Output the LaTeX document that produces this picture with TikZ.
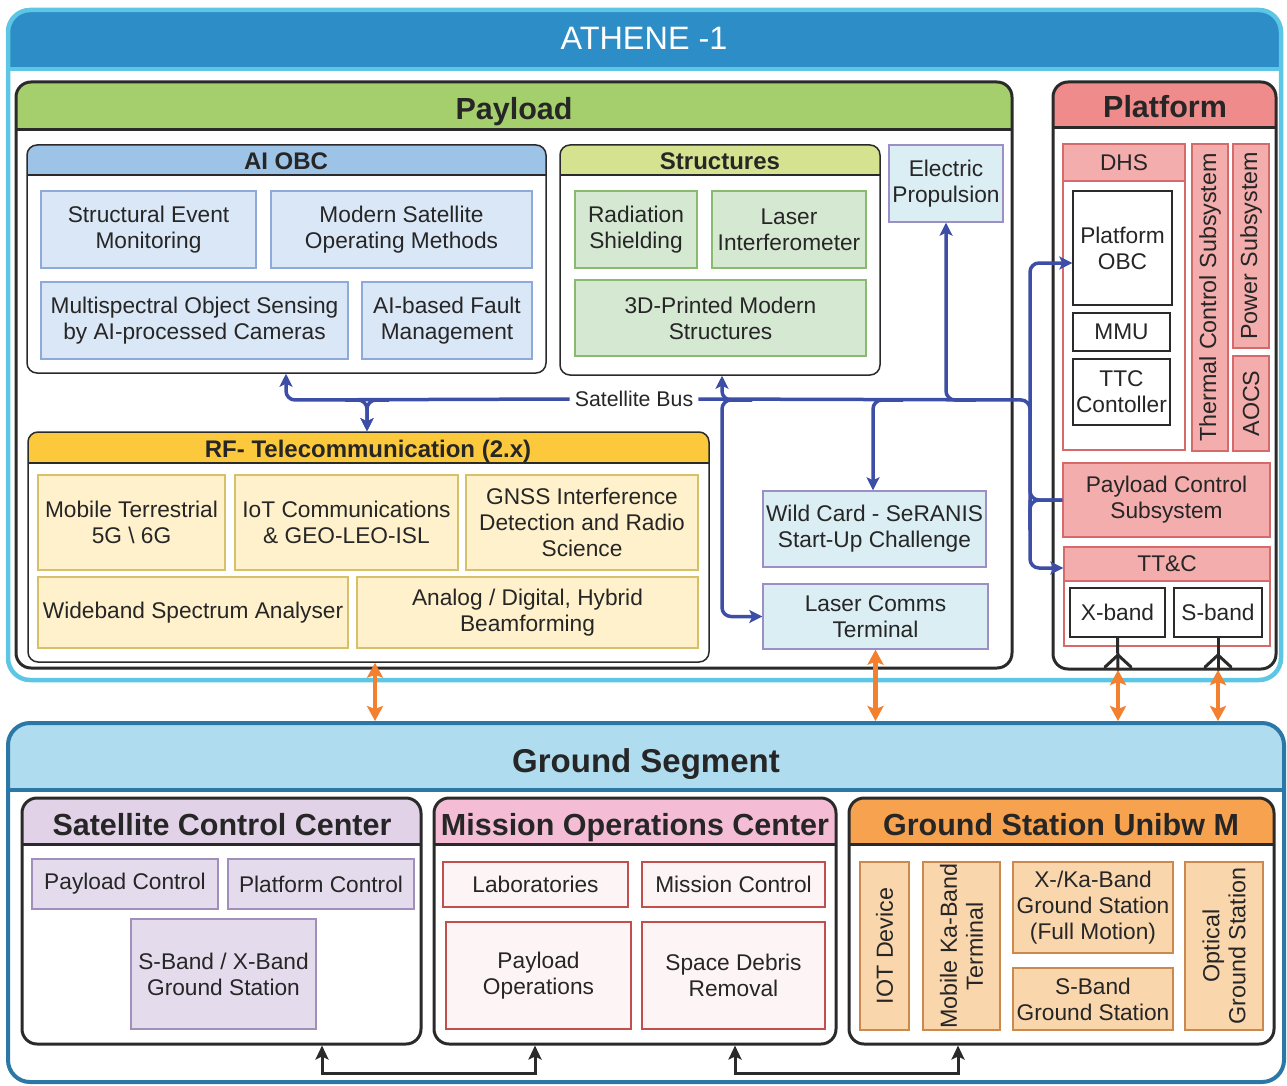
\documentclass[tikz,border=0pt]{standalone}
\usepackage{fontspec}
\setmainfont{Liberation Sans}
\usetikzlibrary{arrows.meta,fit}

% palette
\definecolor{txt}{HTML}{262626}
\definecolor{frame}{HTML}{2A2A2A}
\definecolor{athhead}{HTML}{2D8DC6}
\definecolor{athline}{HTML}{5CC6E4}
\definecolor{plgreen}{HTML}{A4CF6C}
\definecolor{plred}{HTML}{F08B8B}
\definecolor{aihead}{HTML}{9DC3E6}
\definecolor{aifill}{HTML}{DAE7F6}
\definecolor{aidraw}{HTML}{8EAAD8}
\definecolor{sthead}{HTML}{D5E391}
\definecolor{stfill}{HTML}{D5E8D2}
\definecolor{stdraw}{HTML}{88BB70}
\definecolor{cyfill}{HTML}{DAEEF4}
\definecolor{cydraw}{HTML}{9C8FC6}
\definecolor{rfhead}{HTML}{FCC93C}
\definecolor{rffill}{HTML}{FFF1CB}
\definecolor{rfdraw}{HTML}{D6C069}
\definecolor{pkfill}{HTML}{F4ADAD}
\definecolor{pkdraw}{HTML}{D46A6A}
\definecolor{gshead}{HTML}{B0DCEF}
\definecolor{gsdraw}{HTML}{2B78A6}
\definecolor{scchead}{HTML}{E2D2E8}
\definecolor{sccfill}{HTML}{E4DBEC}
\definecolor{sccdraw}{HTML}{A18EBB}
\definecolor{mochead}{HTML}{F5BDD5}
\definecolor{mocfill}{HTML}{FDF4F6}
\definecolor{mocdraw}{HTML}{C24E4E}
\definecolor{gsuhead}{HTML}{F6A24F}
\definecolor{gsufill}{HTML}{FAD6AD}
\definecolor{gsudraw}{HTML}{CB8A4C}
\definecolor{busblue}{HTML}{3D4EA6}
\definecolor{orarr}{HTML}{F2802F}

% type sizes
\newcommand\fBody{\fontsize{22.7}{26}\selectfont}
\newcommand\fVert{\fontsize{23.3}{26}\selectfont}
\newcommand\fSub{\fontsize{24}{28}\selectfont\bfseries}
\newcommand\fBig{\fontsize{30.5}{34}\selectfont\bfseries}
\newcommand\fTitle{\fontsize{32.4}{36}\selectfont}
\newcommand\fGS{\fontsize{33}{36}\selectfont\bfseries}
\newcommand\fBus{\fontsize{21.3}{24}\selectfont}

% container with a coloured title band
% #1 name, #2 border style, #3 band colour, #4 radius, #5 x1, #6 y1, #7 x2, #8 y2, #9 band bottom
\newcommand\panel[9]{%
  \begin{scope}
    \clip (#5,#6) rectangle (#7,#9);
    \fill[#3, rounded corners=#4] (#5,#6) rectangle (#7,#8);
  \end{scope}
  \draw[#2] (#5,#9) -- (#7,#9);
  \node[#2, rounded corners=#4, fit={(#5,#6) (#7,#8)}, inner sep=0pt] (#1) {};
}

% filled box spanning two corners, with its text centred on it
% #1 style, #2 name, #3 top-left, #4 bottom-right, #5 text
\newcommand\bx[5]{%
  \node[#1, fit={(#3) (#4)}] (#2) {};
  \node[font=\fBody, align=center] (#2-t) at (#2.center) {#5};
}

\begin{document}
\begin{tikzpicture}[x=1pt, y=-1pt,
  every node/.style={text=txt},
  frameA/.style={draw=frame, line width=3pt},
  frameB/.style={draw=frame, line width=1.5pt},
  card/.style={draw, line width=1.4pt, inner sep=0pt},
  aibox/.style={card, fill=aifill, draw=aidraw},
  stbox/.style={card, fill=stfill, draw=stdraw},
  cybox/.style={card, fill=cyfill, draw=cydraw},
  rfbox/.style={card, fill=rffill, draw=rfdraw},
  pkbox/.style={card, fill=pkfill, draw=pkdraw},
  wbox/.style={card, fill=white, draw=frame},
  sccbox/.style={card, fill=sccfill, draw=sccdraw},
  mocbox/.style={card, fill=mocfill, draw=mocdraw},
  gsubox/.style={card, fill=gsufill, draw=gsudraw},
  vlabel/.style={font=\fVert, rotate=90, align=center},
  headline/.style={anchor=base},
  bus/.style={draw=busblue, line width=3.5pt, rounded corners=9pt},
  bustip/.style={-{Stealth[length=13pt,width=13pt,inset=3pt]}},
  oarrow/.style={draw=orarr, line width=4.5pt,
    {Stealth[length=15pt,width=16pt,inset=3pt]}-{Stealth[length=15pt,width=16pt,inset=3pt]}},
  barrow/.style={draw=frame, line width=3pt, line join=miter,
    {Stealth[length=14pt,width=13pt,inset=3pt]}-{Stealth[length=14pt,width=13pt,inset=3pt]}},
  antenna/.style={draw=frame, line width=3pt, line cap=round, line join=round}
]
\useasboundingbox (0,0) rectangle (1287,1086);

% ---------------- satellite ----------------
\panel{ath}{draw=athline, line width=4.5pt}{athhead}{22pt}{8}{10}{1281}{680}{69}
\node[font=\fTitle, text=white, headline] (athT) at (644,50) {ATHENE -1};

\panel{pay}{frameA}{plgreen}{15pt}{16}{82}{1012}{668}{130}
\node[font=\fBig, headline] (payT) at (514,120) {Payload};

\panel{plat}{frameA}{plred}{15pt}{1053}{82}{1276}{669}{128}
\node[font=\fBig, headline] (platT) at (1165,118) {Platform};

% AI on-board computer
\panel{aiobc}{frameB}{aihead}{10pt}{27}{145}{546}{373}{175}
\node[font=\fSub, headline] (aiT) at (286,170) {AI OBC};
\bx{aibox}{sem}{41,191}{256,268}{Structural Event\\Monitoring}
\bx{aibox}{msom}{271,191}{532,268}{Modern Satellite\\Operating Methods}
\bx{aibox}{mos}{41,282}{348,359}{Multispectral Object Sensing\\by AI-processed Cameras}
\bx{aibox}{afm}{362,282}{532,359}{AI-based Fault\\Management}

% structures experiments
\panel{st}{frameB}{sthead}{10pt}{560}{145}{880}{375}{175}
\node[font=\fSub, headline] (stT) at (720,170) {Structures};
\bx{stbox}{rs}{575,191}{697,268}{Radiation\\Shielding}
\bx{stbox}{li}{712,191}{866,268}{Laser\\Interferometer}
\bx{stbox}{pms}{575,280}{866,356}{3D-Printed Modern\\Structures}

\bx{cybox}{ep}{889,145}{1003,222}{Electric\\Propulsion}

% RF telecommunication
\panel{rf}{frameB}{rfhead}{10pt}{28}{432}{709}{662}{463}
\node[font=\fSub, headline] (rfT) at (368,457) {RF- Telecommunication (2.x)};
\bx{rfbox}{mt}{38,475}{225,570}{Mobile Terrestrial\\5G \textbackslash{} 6G}
\bx{rfbox}{iot}{235,475}{458,570}{IoT Communications\\\& GEO-LEO-ISL}
\bx{rfbox}{gnss}{466,475}{698,570}{GNSS Interference\\Detection and Radio\\Science}
\bx{rfbox}{wsa}{38,577}{348,648}{Wideband Spectrum Analyser}
\bx{rfbox}{adh}{357,577}{698,648}{Analog / Digital, Hybrid\\Beamforming}

\bx{cybox}{wc}{763,491}{986,567}{Wild Card - SeRANIS\\Start-Up Challenge}
\bx{cybox}{lct}{763,584}{988,649}{Laser Comms\\Terminal}

% platform subsystems
\fill[pkfill] (1063,144) rectangle (1185,181);
\node[draw=pkdraw, line width=1.4pt, inner sep=0pt, fit={(1063,144) (1185,450)}] (dhs) {};
\draw[draw=pkdraw, line width=1.4pt] (1063,181) -- (1185,181);
\node[font=\fBody] (dhsT) at (1124,163) {DHS};
\bx{wbox}{obc}{1073,191}{1172,305}{Platform\\OBC}
\bx{wbox}{mmu}{1073,313}{1170,351}{MMU}
\bx{wbox}{ttcc}{1073,359}{1170,425}{TTC\\Contoller}

\node[pkbox, fit={(1192,144) (1228,451)}] (tcs) {};
\node[vlabel] (tcsT) at (tcs.center) {Thermal Control Subsystem};
\node[pkbox, fit={(1233,144) (1269,348)}] (pwr) {};
\node[vlabel] (pwrT) at (pwr.center) {Power Subsystem};
\node[pkbox, fit={(1233,356) (1269,451)}] (aocs) {};
\node[vlabel] (aocsT) at (aocs.center) {AOCS};

\bx{pkbox}{pcs}{1063,463}{1270,537}{Payload Control\\Subsystem}

\fill[pkfill] (1064,547) rectangle (1270,581);
\node[draw=pkdraw, line width=1.4pt, inner sep=0pt, fit={(1064,547) (1270,646)}] (ttc) {};
\draw[draw=pkdraw, line width=1.4pt] (1064,581) -- (1270,581);
\node[font=\fBody] (ttcT) at (1167,564) {TT\&C};
\bx{wbox}{xb}{1070,588}{1165,637}{X-band}
\bx{wbox}{sb}{1174,588}{1262,637}{S-band}

% antennas
\coordinate (antX) at (1118,670);
\coordinate (antS) at (1218,670);
\draw[antenna] (xb.south) -- (antX);
\draw[antenna] (1105,667) -- (1118,655) -- (1131,667);
\draw[antenna] (sb.south) -- (antS);
\draw[antenna] (1205,667) -- (1218,655) -- (1231,667);

% ---------------- satellite bus ----------------
\node[font=\fBus, inner xsep=5pt, inner ysep=2pt] (sbl) at (634,399) {Satellite Bus};
\coordinate (b1) at (286,400);
\coordinate (b2) at (367,400);
\coordinate (b2l) at (345,400);
\coordinate (b2r) at (389,400);
\coordinate (b3) at (722,400);
\coordinate (b3r) at (752,400);
\coordinate (b4) at (873,400);
\coordinate (b4r) at (903,400);
\coordinate (b5) at (946,400);
\coordinate (b5r) at (976,400);
\coordinate (b6) at (1030,400);
\coordinate (vtop) at (1030,263);
\coordinate (vpcs) at (1030,500);
\coordinate (vpcsA) at (1030,470);
\coordinate (vpcsB) at (1030,530);
\coordinate (vttc) at (1030,568);

\draw[bus,bustip] (sbl.west) -- (b1) -- (b1 |- aiobc.south);
\draw[bus,bustip] (b2l) -- (b2) -- (b2 |- rf.north);
\draw[bus,bustip] (b2r) -- (b2) -- (b2 |- rf.north);
\draw[bus] (sbl.east) -- (b6) -- (vpcsA);
\draw[bus,bustip] (b3r) -- (b3) -- (b3 |- st.south);
\draw[bus,bustip] (b3r) -- (b3) -- (b3 |- lct.west) -- (lct.west);
\draw[bus,bustip] (b4r) -- (b4) -- (b4 |- wc.north);
\draw[bus,bustip] (b5r) -- (b5) -- (b5 |- ep.south);
\draw[bus,bustip] (vpcsB) -- (vtop) -- (obc.west |- vtop);
\draw[bus] (vpcsA) -- (vpcs) -- (pcs.west);
\draw[bus] (vpcsB) -- (vpcs) -- (pcs.west);
\draw[bus,bustip] (vpcs) -- (vttc) -- (ttc.west |- vttc);

% ---------------- ground segment ----------------
\panel{gs}{draw=gsdraw, line width=4pt}{gshead}{22pt}{8}{723}{1284}{1082}{790}
\node[font=\fGS, headline] (gsT) at (646,772) {Ground Segment};

\panel{scc}{frameA}{scchead}{15pt}{22}{798}{421}{1044}{844}
\node[font=\fBig, headline] (sccT) at (222,835) {Satellite Control Center};
\bx{sccbox}{pc}{32,859}{218,909}{Payload Control}
\bx{sccbox}{plc}{228,859}{414,909}{Platform Control}
\bx{sccbox}{sxgs}{131,919}{316,1029}{S-Band / X-Band\\Ground Station}

\panel{moc}{frameA}{mochead}{15pt}{434}{798}{836}{1044}{844}
\node[font=\fBig, headline] (mocT) at (635,835) {Mission Operations Center};
\bx{mocbox}{lab}{443,862}{628,907}{Laboratories}
\bx{mocbox}{mc}{642,862}{825,907}{Mission Control}
\bx{mocbox}{po}{446,922}{631,1029}{Payload\\Operations}
\bx{mocbox}{sdr}{642,922}{825,1029}{Space Debris\\Removal}

\panel{gsu}{frameA}{gsuhead}{15pt}{849}{798}{1274}{1044}{844}
\node[font=\fBig, headline] (gsuT) at (1061,835) {Ground Station Unibw M};
\node[gsubox, fit={(860,862) (909,1030)}] (iotd) {};
\node[vlabel] (iotdT) at (iotd.center) {IOT Device};
\node[gsubox, fit={(923,862) (1000,1030)}] (mkt) {};
\node[vlabel] (mktT) at (mkt.center) {Mobile Ka-Band\\Terminal};
\bx{gsubox}{xka}{1013,862}{1173,953}{X-/Ka-Band\\Ground Station\\(Full Motion)}
\bx{gsubox}{sbgs}{1013,968}{1173,1030}{S-Band\\Ground Station}
\node[gsubox, fit={(1185,862) (1263,1030)}] (ogs) {};
\node[vlabel] (ogsT) at (ogs.center) {Optical\\Ground Station};

% ---------------- space-ground links ----------------
\coordinate (o1) at (375,0);
\draw[oarrow] (rf.south -| o1) -- (gs.north -| o1);
\draw[oarrow] (lct.south) -- (gs.north -| lct.south);
\draw[oarrow] (antX) -- (gs.north -| antX);
\draw[oarrow] (antS) -- (gs.north -| antS);

% ---------------- ground links ----------------
\coordinate (k1) at (322,1073);
\coordinate (k2) at (535,1073);
\coordinate (k3) at (735,1073);
\coordinate (k4) at (958,1073);
\draw[barrow] (scc.south -| k1) -- (k1) -- (k2) -- (moc.south -| k2);
\draw[barrow] (moc.south -| k3) -- (k3) -- (k4) -- (gsu.south -| k4);

\end{tikzpicture}
\end{document}
